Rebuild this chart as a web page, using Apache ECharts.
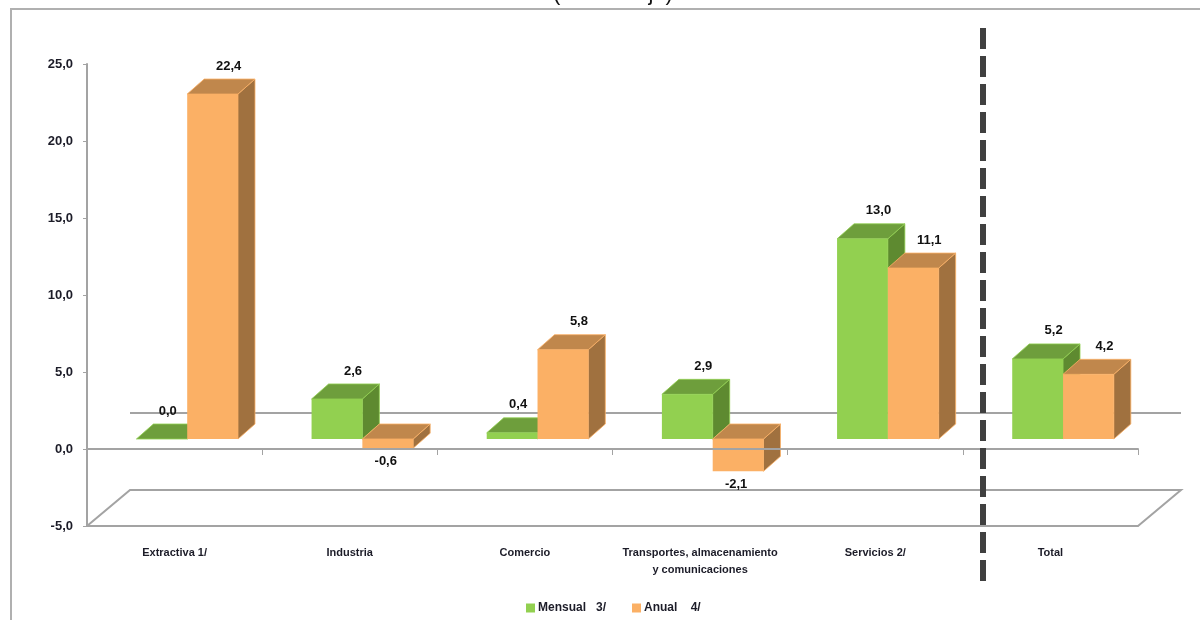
<!DOCTYPE html>
<html><head><meta charset="utf-8">
<style>html,body{margin:0;padding:0;background:#fff}#c{width:1200px;height:620px}</style>
<script src="https://cdn.jsdelivr.net/npm/echarts@6/dist/echarts.min.js"></script>
</head><body><div id="c"></div>
<script>
const categories = ['Extractiva 1/','Industria','Comercio','Transportes, almacenamiento\ny comunicaciones','Servicios 2/','Total'];
const mensual = [0.0, 2.6, 0.4, 2.9, 13.0, 5.2];
const anual = [22.4, -0.6, 5.8, -2.1, 11.1, 4.2];
const yTicks = {min:-5, max:25, interval:5};

const FONT = '"Liberation Sans",sans-serif';
const TXT = '#1c1c28';
const GRID = '#a3a3a3';
const fmt = v => v.toFixed(1).replace('.', ',');

function barRenderer(sideSign, front, top, side) {
  return function (params, api) {
    const cat = api.value(0), val = api.value(1);
    const y0 = api.coord([cat, 0]), yv = api.coord([cat, val]);
    const band = api.size([1, 0])[0];
    const w = band * 0.29, shiftX = band * 0.072, liftY = 10, dx = 17, dy = 15;
    const cx = y0[0] + shiftX;
    const x1 = sideSign < 0 ? cx - w : cx;
    const x2 = x1 + w;
    const ya = Math.min(y0[1], yv[1]) - liftY;
    const yb = Math.max(y0[1], yv[1]) - liftY;
    const edge = {stroke: front, lineWidth: 0.8};
    const lx = (x1 + x2) / 2 + (val < 0 ? -2 : (val < 1 ? 6 : 16));
    const ly = val < 0 ? yb + 13 : ya - dy - 13;
    return {type: 'group', children: [
      {type: 'polygon', shape: {points: [[x2, ya], [x2 + dx, ya - dy], [x2 + dx, yb - dy], [x2, yb]]}, style: Object.assign({fill: side}, edge)},
      {type: 'polygon', shape: {points: [[x1, ya], [x1 + dx, ya - dy], [x2 + dx, ya - dy], [x2, ya]]}, style: Object.assign({fill: top}, edge)},
      {type: 'rect', shape: {x: x1, y: ya, width: w, height: yb - ya}, style: {fill: front}},
      {type: 'text', z2: 50, style: {x: lx, y: ly, text: fmt(val), fill: '#111', font: 'bold 13px ' + FONT, textAlign: 'center', textVerticalAlign: 'middle'}}
    ]};
  };
}

function floorRenderer(params, api) {
  const cs = params.coordSys;
  const dx = 43, dy = 36;
  const yZero = api.coord([0, 0])[1];
  const yBot = cs.y + cs.height;
  const xL = cs.x, xR = cs.x + cs.width;
  const st = {stroke: GRID, lineWidth: 2, fill: null};
  return {type: 'group', children: [
    {type: 'polyline', shape: {points: [[xL, yBot], [xL + dx, yBot - dy], [xR + dx, yBot - dy], [xR, yBot]]}, style: st},
    {type: 'line', shape: {x1: xL + dx, y1: yZero - dy, x2: xR + dx, y2: yZero - dy}, style: {stroke: GRID, lineWidth: 2}}
  ]};
}

const chart = echarts.init(document.getElementById('c'), null, {renderer: 'canvas'});
chart.setOption({
  animation: false,
  backgroundColor: '#fff',
  title: {text: '(Porcentaje)', left: 608, top: -22, textAlign: 'center',
    textStyle: {fontFamily: FONT, fontSize: 22, fontWeight: 'normal', color: '#111'}},
  grid: {left: 87, right: 62, top: 64, bottom: 94, containLabel: false},
  legend: {left: 521, top: 597, itemWidth: 9, itemHeight: 9, itemGap: 26, icon: 'rect',
    data: ['Mensual   3/', 'Anual    4/'],
    textStyle: {fontFamily: FONT, fontWeight: 'bold', fontSize: 12, color: TXT, padding: [0, 0, 0, -2]}},
  xAxis: [
    {type: 'category', data: categories, position: 'bottom', axisLine: {onZero: false, lineStyle: {color: GRID, width: 2}},
      axisTick: {show: false}, splitLine: {show: false},
      axisLabel: {interval: 0, margin: 18, lineHeight: 17, fontFamily: FONT, fontWeight: 'bold', fontSize: 11, color: TXT}},
    {type: 'category', data: categories, position: 'bottom', z: 8, axisLine: {onZero: true, lineStyle: {color: GRID, width: 2}},
      axisTick: {show: true, interval: 0, length: 6, lineStyle: {color: GRID}}, axisLabel: {show: false}, splitLine: {show: false}}
  ],
  yAxis: {type: 'value', min: yTicks.min, max: yTicks.max, interval: yTicks.interval,
    axisLine: {show: true, onZero: false, lineStyle: {color: GRID, width: 2}},
    axisTick: {show: true, length: 4, lineStyle: {color: GRID}},
    splitLine: {show: false},
    axisLabel: {margin: 14, formatter: v => fmt(v), fontFamily: FONT, fontWeight: 'bold', fontSize: 13, color: TXT}},
  series: [
    {type: 'custom', name: 'piso', silent: true, z: 1, renderItem: floorRenderer, data: [[0, 0]], encode: {x: 0, y: 1}},
    {type: 'custom', name: 'Mensual   3/', z: 2, itemStyle: {color: '#92D050'},
      renderItem: barRenderer(-1, '#92D050', '#6E9E3C', '#5E8A30'),
      data: mensual.map((v, i) => [i, v]), encode: {x: 0, y: 1}},
    {type: 'custom', name: 'Anual    4/', z: 3, itemStyle: {color: '#FBB065'},
      renderItem: barRenderer(1, '#FBB065', '#C0874C', '#A0713F'),
      data: anual.map((v, i) => [i, v]), encode: {x: 0, y: 1}}
  ],
  graphic: [
    {type: 'polyline', z: 20, silent: true, shape: {points: [[11, 620], [11, 9], [1200, 9]]}, style: {stroke: '#b0b0b0', lineWidth: 2, fill: null}},
    {type: 'line', z: 20, silent: true, shape: {x1: 983, y1: 28, x2: 983, y2: 582}, style: {stroke: '#404040', lineWidth: 6, lineDash: [21, 7]}}
  ]
});
</script></body></html>
